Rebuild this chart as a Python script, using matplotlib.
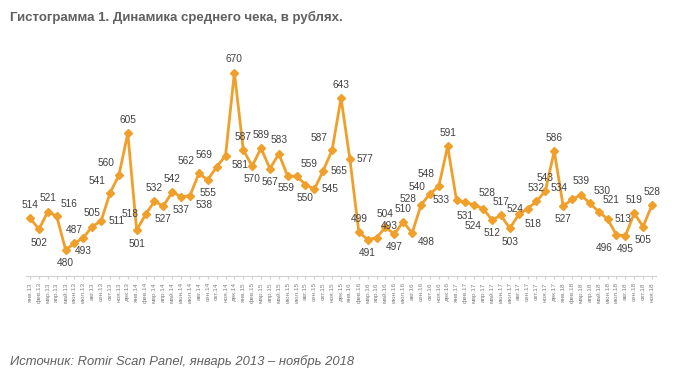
import matplotlib.pyplot as plt

# Средний чек по месяцам, январь 2013 - ноябрь 2018
months = ["янв", "фев", "мар", "апр", "май", "июн",
          "июл", "авг", "сен", "окт", "ноя", "дек"]
years = ["13", "14", "15", "16", "17", "18"]
values = [
    514, 502, 521, 516, 480, 487, 493, 505, 511, 541, 560, 605,
    501, 518, 532, 527, 542, 537, 538, 562, 555, 569, 581, 670,
    587, 570, 589, 567, 583, 559, 559, 550, 545, 565, 587, 643,
    577, 499, 491, 493, 504, 497, 510, 498, 528, 540, 548, 591,
    533, 531, 528, 524, 512, 517, 503, 518, 524, 532, 543, 586,
    527, 534, 539, 530, 521, 513, 496, 495, 519, 505, 528,
]
labels = [f"{m}.{y}" for y in years for m in months][:len(values)]

title = "Гистограмма 1. Динамика среднего чека, в рублях."
source = "Источник: Romir Scan Panel, январь 2013 – ноябрь 2018"

# где стоит подпись у каждой точки (a-над, b-под, l/r-сбоку, остальные - по диагонали)
place = ("abaRbabarLLa"
         "blababELbLEa"
         "ababacRbrrLa"
         "rabRabaEkkLa"
         "lbRDbabEmaaa"
         "bLaRRrBbaba")
offsets = {
    "a": (0, 6, "center", "bottom"), "b": (0, -6, "center", "top"),
    "l": (-5, 0, "right", "center"), "r": (5, 0, "left", "center"),
    "L": (-3, 5, "right", "bottom"), "R": (3, 5, "left", "bottom"),
    "B": (-3, -6, "right", "top"), "E": (4, -3, "left", "top"),
    "D": (-1, -9, "right", "top"), "c": (-1, -5, "center", "top"),
    "k": (-3, 1, "right", "bottom"), "m": (-3, 0, "right", "center"),
}

plt.rcParams['font.family'] = ['Liberation Sans', 'DejaVu Sans']

fig = plt.figure(figsize=(6.83, 3.79), dpi=100)
ax = fig.add_axes([0.0375, 0.272, 0.9236, 0.61])

color = "#F0A02A"
x = list(range(len(values)))
ax.plot(x, values, color=color, lw=2.0, marker="D", ms=4.2,
        markeredgecolor=color, zorder=3)

for i, v in enumerate(values):
    dx, dy, ha, va = offsets[place[i]]
    ax.annotate(str(v), (i, v), xytext=(dx, dy),
                textcoords="offset points", ha=ha, va=va,
                fontsize=7.3, color="#404040", zorder=4)

ax.set_xlim(-0.5, len(values) - 0.5)
ax.set_ylim(452, 700)
ax.set_xticks(x)
ax.set_xticklabels(labels, rotation=90, fontsize=4.6, color="#808080")
ax.tick_params(axis="x", length=2.5, color="#D0D0D0", pad=2)
ax.set_yticks([])
for s in ["top", "right", "left"]:
    ax.spines[s].set_visible(False)
ax.spines["bottom"].set_color("#D0D0D0")

fig.text(0.0146, 0.955, title, fontsize=9.5, fontweight="bold",
         color="#606060", va="center")
fig.text(0.0146, 0.045, source, fontsize=9.4, style="italic",
         color="#606060", va="center")

fig.savefig("out.png", dpi=100)
